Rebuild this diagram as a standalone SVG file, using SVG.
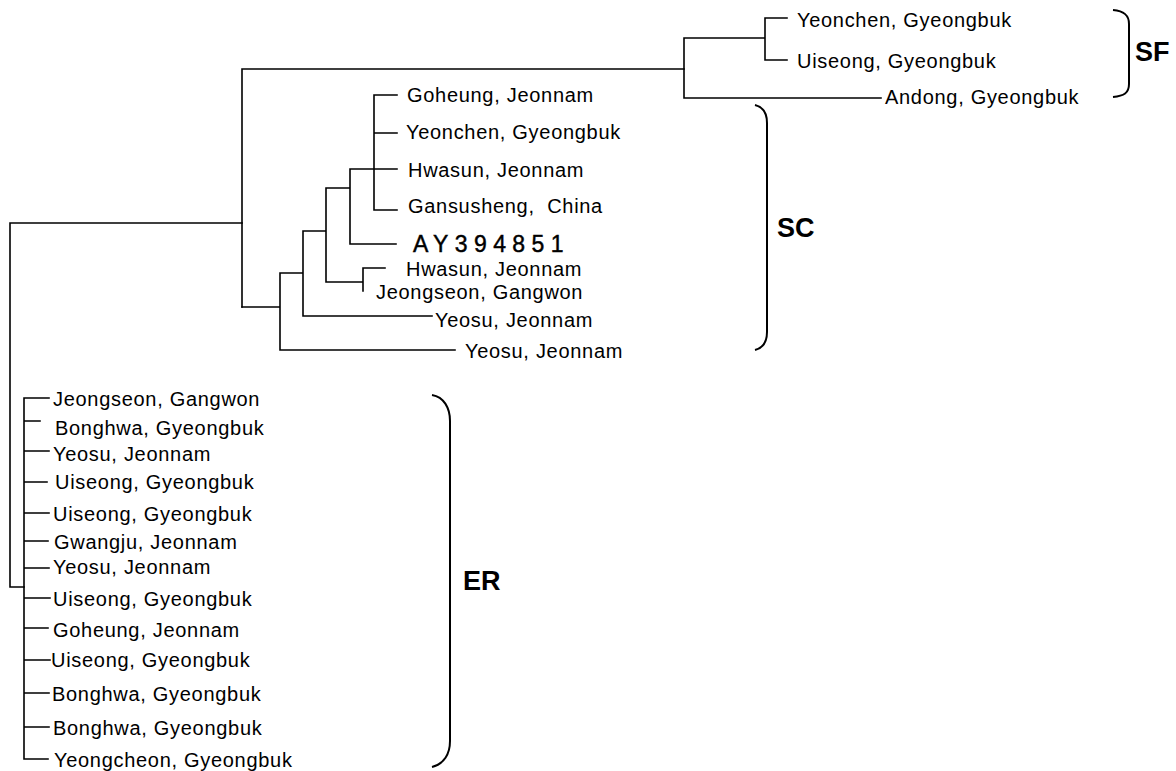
<svg xmlns="http://www.w3.org/2000/svg" width="1176" height="771" viewBox="0 0 1176 771">
<style>
.bg{fill:#ffffff}
.edge{fill:none;stroke:#000;stroke-width:1.6;stroke-linecap:square}
.brace{fill:none;stroke:#000;stroke-width:2}
.lbl{font-family:"Liberation Sans",Arial,sans-serif;font-size:20px;letter-spacing:0.7px;fill:#000}
.acc{font-family:"Liberation Sans",Arial,sans-serif;font-size:23px;letter-spacing:6.4px;fill:#000;stroke:#000;stroke-width:0.45}
.clade{font-family:"Liberation Sans",Arial,sans-serif;font-size:27px;font-weight:bold;fill:#000}
</style>
<rect class="bg" x="0" y="0" width="1176" height="771"/>
<g id="connectors">
  <path class="edge" d="M10,223 L10,587 M10,223 L242,223 M10,587 L24,587"/>
  <path class="edge" d="M242,69 L242,307 M242,69 L684,69"/>
  <path class="edge" d="M684,38 L684,98 M684,38 L765,38 M765,18 L765,60 M765,18 L787,18 M765,60 L787,60 M684,98 L881,98"/>
  <path class="edge" d="M242,307 L280,307 M280,273 L280,350 M280,350 L455,350 M280,273 L303,273 M303,231 L303,316 M303,316 L432,316 M303,231 L326,231 M326,188 L326,282 M326,282 L363,282 M363,268 L363,291 M363,268 L385,268 M326,188 L350,188 M350,169 L350,244 M350,244 L396,244 M350,169 L374,169 M374,95 L374,210 M374,95 L397,95 M374,133 L397,133 M374,169 L397,169 M374,210 L397,210"/>
  <path class="edge" d="M24,398 L24,759 M24,398 L49,398 M24,421 L40,421 M24,451 L49,451 M24,482 L47,482 M24,513 L49,513 M24,541 L48,541 M24,568 L49,568 M24,598 L50,598 M24,628 L48,628 M24,660 L50,660 M24,693 L49,693 M24,727 L49,727 M24,759 L48,759"/>
</g>
<g id="braces">
  <path class="brace" d="M1113,10 C1124,11 1129,15 1129,24 L1129,84 C1129,93 1124,96 1113,97"/>
  <path class="brace" d="M755,105 C763,107 767,113 767,123 L767,332 C767,342 763,348 755,350"/>
  <path class="brace" d="M432,395 C444,397 450,408 450,421 L450,741 C450,754 444,764 432,767"/>
</g>
<g id="clade-SF"><text class="clade" x="1135" y="61">SF</text></g>
<g id="clade-SC"><text class="clade" x="777" y="237">SC</text></g>
<g id="clade-ER"><text class="clade" x="463" y="590">ER</text></g>
<g id="sf-1"><text class="lbl" x="797" y="27">Yeonchen, Gyeongbuk</text></g>
<g id="sf-2"><text class="lbl" x="797" y="68">Uiseong, Gyeongbuk</text></g>
<g id="sf-3"><text class="lbl" x="885" y="104">Andong, Gyeongbuk</text></g>
<g id="sc-1"><text class="lbl" x="407" y="102">Goheung, Jeonnam</text></g>
<g id="sc-2"><text class="lbl" x="406" y="139">Yeonchen, Gyeongbuk</text></g>
<g id="sc-3"><text class="lbl" x="408" y="177">Hwasun, Jeonnam</text></g>
<g id="sc-4"><text class="lbl" x="408" y="213" xml:space="preserve">Gansusheng,  China</text></g>
<g id="sc-5"><text class="acc" x="413" y="252">AY394851</text></g>
<g id="sc-6"><text class="lbl" x="406" y="276">Hwasun, Jeonnam</text></g>
<g id="sc-7"><text class="lbl" x="376" y="299">Jeongseon, Gangwon</text></g>
<g id="sc-8"><text class="lbl" x="435" y="327">Yeosu, Jeonnam</text></g>
<g id="sc-9"><text class="lbl" x="465" y="358">Yeosu, Jeonnam</text></g>
<g id="er-1"><text class="lbl" x="53" y="406">Jeongseon, Gangwon</text></g>
<g id="er-2"><text class="lbl" x="55" y="435">Bonghwa, Gyeongbuk</text></g>
<g id="er-3"><text class="lbl" x="53" y="461">Yeosu, Jeonnam</text></g>
<g id="er-4"><text class="lbl" x="55" y="489">Uiseong, Gyeongbuk</text></g>
<g id="er-5"><text class="lbl" x="53" y="521">Uiseong, Gyeongbuk</text></g>
<g id="er-6"><text class="lbl" x="54" y="549">Gwangju, Jeonnam</text></g>
<g id="er-7"><text class="lbl" x="53" y="574">Yeosu, Jeonnam</text></g>
<g id="er-8"><text class="lbl" x="53" y="606">Uiseong, Gyeongbuk</text></g>
<g id="er-9"><text class="lbl" x="53" y="637">Goheung, Jeonnam</text></g>
<g id="er-10"><text class="lbl" x="51" y="667">Uiseong, Gyeongbuk</text></g>
<g id="er-11"><text class="lbl" x="52" y="701">Bonghwa, Gyeongbuk</text></g>
<g id="er-12"><text class="lbl" x="53" y="735">Bonghwa, Gyeongbuk</text></g>
<g id="er-13"><text class="lbl" x="54" y="767">Yeongcheon, Gyeongbuk</text></g>
</svg>
